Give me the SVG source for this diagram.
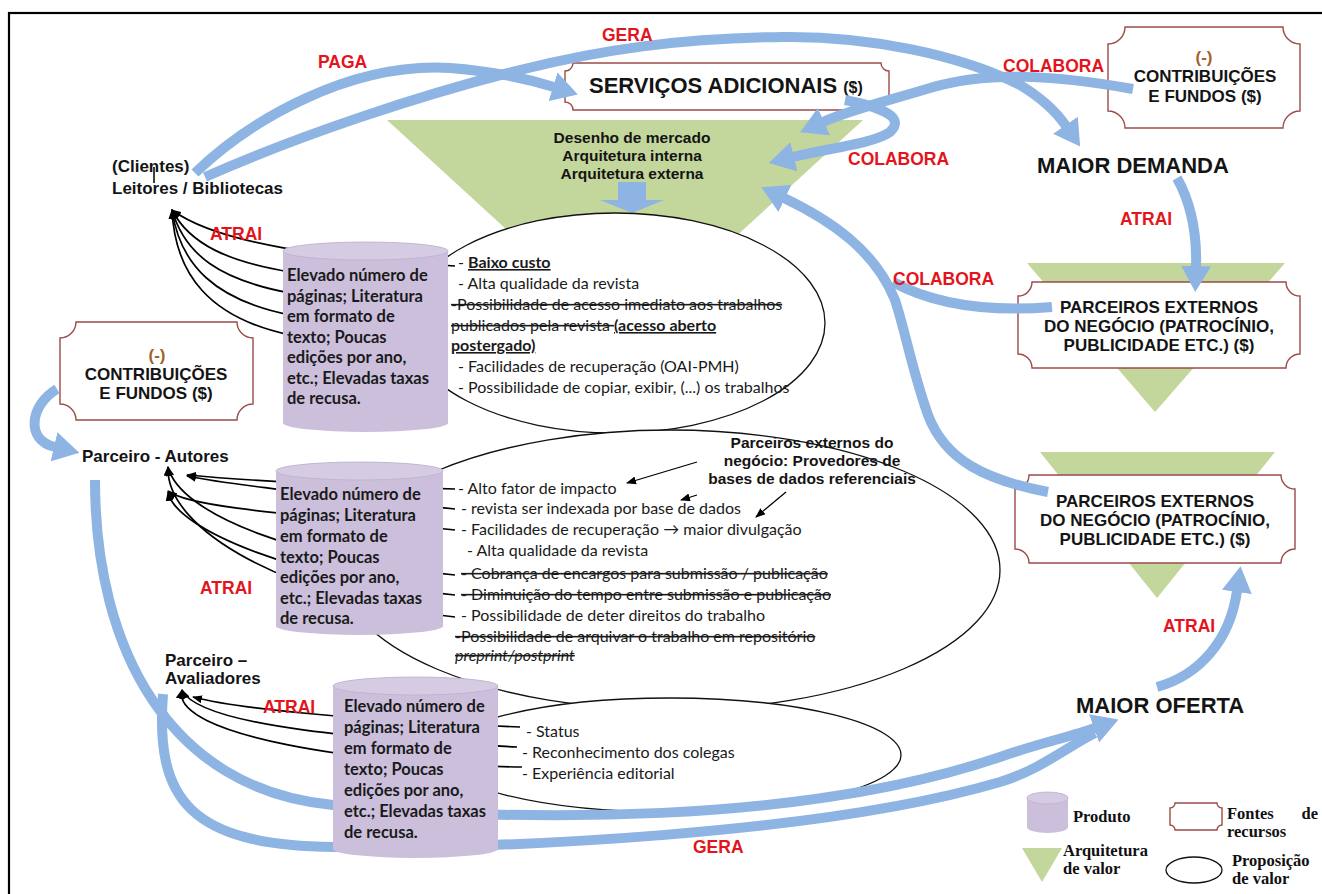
<svg xmlns="http://www.w3.org/2000/svg" width="1322" height="894" viewBox="0 0 1322 894">
<defs>
<style>
.a{font-family:"Liberation Sans",Arial,sans-serif;font-weight:bold;fill:#141414}
.l{font-size:17px}
.r{font-family:"Liberation Sans",Arial,sans-serif;font-weight:bold;font-size:17.5px;fill:#e3141b}
.bx{font-size:17px;text-anchor:middle}
.c{font-family:Lato,"Liberation Sans",sans-serif;font-size:16px;fill:#1a1a1a}
.cb{font-family:Lato,"Liberation Sans",sans-serif;font-size:16.5px;font-weight:bold;fill:#1a1a1a}
.s{text-decoration:line-through}
.u{text-decoration:underline;font-weight:bold}
.g{font-family:"Liberation Serif","Times New Roman",serif;font-weight:bold;font-size:16.5px;fill:#111}
.pl{fill:#fff;stroke:#9b4b48;stroke-width:1.4}
.tr{fill:#c3d69b}
.ey{fill:#fff;stroke:#111;stroke-width:1.3}
.cy{fill:#cbbfdb}
.ct{fill:#d5cce3;stroke:#bdb0cf;stroke-width:.8}
.bl{fill:none;stroke:#8eb4e3;stroke-width:10}
.k{fill:none;stroke:#000;stroke-width:1.7}
.kt{fill:none;stroke:#000;stroke-width:1.3}
.br{fill:#a3612a}
</style>
<marker id="bh" markerUnits="userSpaceOnUse" markerWidth="26" markerHeight="30" viewBox="0 0 26 30" refX="1" refY="15" orient="auto"><path d="M0,0 L26,15 L0,30 Z" fill="#8eb4e3"/></marker>
<marker id="ah" markerUnits="userSpaceOnUse" markerWidth="10" markerHeight="8" viewBox="0 0 10 8" refX="9" refY="4" orient="auto"><path d="M0,0 L10,4 L0,8 Z" fill="#000"/></marker>
</defs>
<rect x="0" y="0" width="1322" height="894" fill="#fff"/>
<rect x="9" y="13" width="1330" height="900" fill="none" stroke="#000" stroke-width="2.2"/>

<g id="arquitetura-principal">
<polygon class="tr" points="387,120 863,120 625,338"/>
<text class="a" font-size="15.5" text-anchor="middle"><tspan x="632" y="143">Desenho de mercado</tspan><tspan x="632" y="161">Arquitetura interna</tspan><tspan x="632" y="179">Arquitetura externa</tspan></text>
<polygon points="618,182 646,182 646,200 664,200 632,213 600,200 618,200" fill="#8eb4e3"/>
</g>
<g id="arquitetura-a"><polygon class="tr" points="1027,263 1285,263 1155,412"/></g>
<g id="arquitetura-b"><polygon class="tr" points="1040,452 1275,452 1157,598"/></g>

<g id="proposicao-1">
<ellipse class="ey" cx="615" cy="323" rx="210" ry="110"/>
<text class="c" x="458" y="268">- <tspan class="u">Baixo custo</tspan></text>
<text class="c" x="458" y="289">- Alta qualidade da revista</text>
<text class="c s" x="451" y="310">-Possibilidade de acesso imediato aos trabalhos</text>
<text class="c" x="451" y="331"><tspan class="s">publicados pela revista </tspan><tspan class="u">(acesso aberto</tspan></text>
<text class="c" x="451" y="351"><tspan class="u">postergado)</tspan></text>
<text class="c" x="458" y="372">- Facilidades de recuperação (OAI-PMH)</text>
<text class="c" x="458" y="393">- Possibilidade de copiar, exibir, (...) os trabalhos</text>
</g>

<g id="proposicao-2">
<ellipse class="ey" cx="670" cy="570" rx="330" ry="140"/>
<text class="c" x="458" y="494">- Alto fator de impacto</text>
<text class="c" x="461" y="514">- revista ser indexada por base de dados</text>
<text class="c" x="461" y="535">- Facilidades de recuperação → maior divulgação</text>
<text class="c" x="467" y="556">- Alta qualidade da revista</text>
<text class="c s" x="461" y="579">- Cobrança de encargos para submissão / publicação</text>
<text class="c s" x="461" y="600">- Diminuição do tempo entre submissão e publicação</text>
<text class="c" x="461" y="621">- Possibilidade de deter direitos do trabalho</text>
<text class="c s" x="455" y="642">-Possibilidade de arquivar o trabalho em repositório</text>
<text class="c s" x="455" y="661" font-style="italic">preprint/postprint</text>
</g>

<g id="proposicao-3">
<ellipse class="ey" cx="670" cy="755" rx="231" ry="57"/>
<text class="c" x="526" y="737">- Status</text>
<text class="c" x="522" y="758">- Reconhecimento dos colegas</text>
<text class="c" x="522" y="779">- Experiência editorial</text>
</g>

<g id="servicos-adicionais">
<path class="pl" d="M573,63 H881 A8,8 0 0 0 889,71 V102 A8,8 0 0 0 881,110 H573 A8,8 0 0 0 565,102 V71 A8,8 0 0 0 573,63 Z"/>
<text class="a" x="589" y="93" font-size="22">SERVIÇOS ADICIONAIS <tspan font-size="16">($)</tspan></text>
</g>

<g id="contribuicoes-topo">
<path class="pl" d="M1125,27 H1283 A17,17 0 0 0 1300,44 V111 A17,17 0 0 0 1283,128 H1125 A17,17 0 0 0 1108,111 V44 A17,17 0 0 0 1125,27 Z"/>
<text class="a bx br" x="1204" y="63">(-)</text>
<text class="a bx" x="1205" y="82">CONTRIBUIÇÕES</text>
<text class="a bx" x="1205" y="102">E FUNDOS ($)</text>
</g>

<g id="contribuicoes-esquerda">
<path class="pl" d="M76,322 H237 A16,16 0 0 0 253,338 V404 A16,16 0 0 0 237,420 H76 A16,16 0 0 0 60,404 V338 A16,16 0 0 0 76,322 Z"/>
<text class="a bx br" x="157" y="361">(-)</text>
<text class="a bx" x="156" y="380">CONTRIBUIÇÕES</text>
<text class="a bx" x="156" y="399">E FUNDOS ($)</text>
</g>

<g id="parceiros-externos-a">
<path class="pl" d="M1032,282 H1286 A14,14 0 0 0 1300,296 V354 A14,14 0 0 0 1286,368 H1032 A14,14 0 0 0 1018,354 V296 A14,14 0 0 0 1032,282 Z"/>
<text class="a bx" x="1159" y="313">PARCEIROS EXTERNOS</text>
<text class="a bx" x="1159" y="332">DO NEGÓCIO (PATROCÍNIO,</text>
<text class="a bx" x="1159" y="351">PUBLICIDADE ETC.) ($)</text>
</g>

<g id="parceiros-externos-b">
<path class="pl" d="M1029,475 H1281 A14,14 0 0 0 1295,489 V549 A14,14 0 0 0 1281,563 H1029 A14,14 0 0 0 1015,549 V489 A14,14 0 0 0 1029,475 Z"/>
<text class="a bx" x="1155" y="507">PARCEIROS EXTERNOS</text>
<text class="a bx" x="1155" y="526">DO NEGÓCIO (PATROCÍNIO,</text>
<text class="a bx" x="1155" y="545">PUBLICIDADE ETC.) ($)</text>
</g>

<g id="connectors">
<path class="bl" marker-end="url(#bh)" d="M195,173 C250,120 350,62 450,68 C490,71 525,78 554,87"/>
<path class="bl" marker-end="url(#bh)" d="M205,177 C300,135 420,95 520,70 C600,50 680,38 783,37 C870,36 960,55 1020,85 C1040,97 1055,110 1066,126"/>
<path class="bl" marker-end="url(#bh)" d="M1133,89 C1060,76 990,70 930,88 C880,103 850,110 823,122"/>
<path class="bl" marker-end="url(#bh)" d="M845,100 C885,108 905,118 890,132 C875,143 830,148 793,157"/>
<path class="bl" d="M1052,307 C990,312 935,305 893,282"/>
<path class="bl" marker-end="url(#bh)" d="M1048,492 C985,480 945,460 928,415 C912,370 905,330 895,300 C875,250 830,220 784,198"/>
<path class="bl" marker-end="url(#bh)" d="M1177,178 C1192,205 1197,235 1196,267"/>
<path class="bl" marker-end="url(#bh)" d="M1157,687 C1200,675 1230,640 1237,591"/>
<path class="bl" d="M163,694 C155,800 190,845 333,847 C500,849 820,835 1000,782 C1040,770 1070,745 1095,733"/>
<path class="bl" marker-end="url(#bh)" d="M95,480 C95,650 170,790 333,805 C520,822 800,825 1000,757 C1040,743 1070,737 1095,728"/>
<path class="bl" marker-end="url(#bh)" d="M57,389 C30,405 25,440 55,447"/>

<path class="k" marker-end="url(#ah)" d="M455,266 C330,258 220,245 172,210"/>
<path class="k" marker-end="url(#ah)" d="M290,272 C230,262 190,245 172,210"/>
<path class="k" marker-end="url(#ah)" d="M290,293 C220,280 185,255 172,210"/>
<path class="k" marker-end="url(#ah)" d="M290,315 C215,300 180,265 172,210"/>
<path class="k" marker-end="url(#ah)" d="M290,335 C210,318 175,275 172,210"/>

<path class="k" marker-end="url(#ah)" d="M455,489 C330,485 240,480 187,475"/>
<path class="k" marker-end="url(#ah)" d="M455,509 C330,495 230,485 187,476"/>
<path class="k" marker-end="url(#ah)" d="M455,530 C300,515 190,508 168,491"/>
<path class="k" marker-end="url(#ah)" d="M455,575 C300,560 180,515 168,467"/>
<path class="k" marker-end="url(#ah)" d="M455,595 C300,580 175,530 168,492"/>
<path class="k" marker-end="url(#ah)" d="M455,617 C290,600 165,530 168,467"/>

<path class="k" marker-end="url(#ah)" d="M520,727 C400,722 250,712 193,697"/>
<path class="k" marker-end="url(#ah)" d="M517,747 C380,740 200,728 182,690"/>
<path class="k" marker-end="url(#ah)" d="M522,767 C360,765 170,735 182,690"/>

<path class="kt" marker-end="url(#ah)" d="M697,462 L627,483"/>
<path class="kt" marker-end="url(#ah)" d="M697,495 L681,500"/>
<path class="kt" marker-end="url(#ah)" d="M786,492 L756,517"/>
</g>

<g id="connector-labels">
<text class="r" x="318" y="68">PAGA</text>
<text class="r" x="602" y="41">GERA</text>
<text class="r" x="1003" y="72">COLABORA</text>
<text class="r" x="848" y="165">COLABORA</text>
<text class="r" x="893" y="285">COLABORA</text>
<text class="r" x="210" y="240">ATRAI</text>
<text class="r" x="1120" y="225">ATRAI</text>
<text class="r" x="200" y="594">ATRAI</text>
<text class="r" x="263" y="713">ATRAI</text>
<text class="r" x="1163" y="632">ATRAI</text>
<text class="r" x="693" y="853">GERA</text>
</g>

<g id="produto-1">
<path class="cy" d="M283,251 A82.5,9 0 0 1 448,251 V423 A82.5,9 0 0 1 283,423 Z"/>
<ellipse class="ct" cx="365.5" cy="251" rx="82.5" ry="9"/>
<text class="cb"><tspan x="287" y="281">Elevado número de</tspan><tspan x="287" y="302">páginas; Literatura</tspan><tspan x="287" y="322">em formato de</tspan><tspan x="287" y="343">texto; Poucas</tspan><tspan x="287" y="363">edições por ano,</tspan><tspan x="287" y="384">etc.; Elevadas taxas</tspan><tspan x="287" y="404">de recusa.</tspan></text>
</g>
<g id="produto-2">
<path class="cy" d="M276,471 A83.5,9 0 0 1 443,471 V626 A83.5,9 0 0 1 276,626 Z"/>
<ellipse class="ct" cx="359.5" cy="471" rx="83.5" ry="9"/>
<text class="cb"><tspan x="280" y="500">Elevado número de</tspan><tspan x="280" y="521">páginas; Literatura</tspan><tspan x="280" y="542">em formato de</tspan><tspan x="280" y="563">texto; Poucas</tspan><tspan x="280" y="583">edições por ano,</tspan><tspan x="280" y="604">etc.; Elevadas taxas</tspan><tspan x="280" y="624">de recusa.</tspan></text>
</g>
<g id="produto-3">
<path class="cy" d="M333,686 A82.5,9 0 0 1 498,686 V849 A82.5,9 0 0 1 333,849 Z"/>
<ellipse class="ct" cx="415.5" cy="686" rx="82.5" ry="9"/>
<text class="cb"><tspan x="344" y="712">Elevado número de</tspan><tspan x="344" y="733">páginas; Literatura</tspan><tspan x="344" y="754">em formato de</tspan><tspan x="344" y="775">texto; Poucas</tspan><tspan x="344" y="796">edições por ano,</tspan><tspan x="344" y="817">etc.; Elevadas taxas</tspan><tspan x="344" y="838">de recusa.</tspan></text>
</g>

<g id="leitores">
<text class="a l"><tspan x="112" y="172">(Clientes)</tspan><tspan x="112" y="194">Leitores / Bibliotecas</tspan></text>
<line x1="154" y1="167" x2="154" y2="183" stroke="#000" stroke-width="1.5"/>
</g>
<g id="autores"><text class="a l" x="82" y="462">Parceiro - Autores</text></g>
<g id="avaliadores"><text class="a l"><tspan x="165" y="666">Parceiro –</tspan><tspan x="165" y="684">Avaliadores</tspan></text></g>
<g id="maior-demanda"><text class="a" x="1037" y="173" font-size="22">MAIOR DEMANDA</text></g>
<g id="maior-oferta"><text class="a" x="1076" y="713" font-size="22">MAIOR OFERTA</text></g>
<g id="provedores"><text class="a" font-size="15.5" text-anchor="middle"><tspan x="812" y="448">Parceiros externos do</tspan><tspan x="812" y="466">negócio: Provedores de</tspan><tspan x="812" y="484">bases de dados referenciais</tspan></text></g>

<g id="legenda">
<path class="cy" d="M1027,798 A20.5,6 0 0 1 1068,798 V827 A20.5,6 0 0 1 1027,827 Z"/>
<ellipse class="ct" cx="1047.5" cy="798" rx="20.5" ry="6"/>
<text class="g" x="1073" y="822">Produto</text>
<path class="pl" d="M1175,803 H1217 A5,5 0 0 0 1222,808 V825 A5,5 0 0 0 1217,830 H1175 A5,5 0 0 0 1170,825 V808 A5,5 0 0 0 1175,803 Z"/>
<text class="g" x="1227" y="819">Fontes</text>
<text class="g" x="1318" y="819" text-anchor="end">de</text>
<text class="g" x="1227" y="837">recursos</text>
<polygon class="tr" points="1022,848 1062,848 1042,882"/>
<text class="g"><tspan x="1063" y="856">Arquitetura</tspan><tspan x="1063" y="874">de valor</tspan></text>
<ellipse cx="1194" cy="870" rx="28" ry="13" fill="#fff" stroke="#111" stroke-width="1.3"/>
<text class="g"><tspan x="1232" y="866">Proposição</tspan><tspan x="1232" y="884">de valor</tspan></text>
</g>
</svg>
